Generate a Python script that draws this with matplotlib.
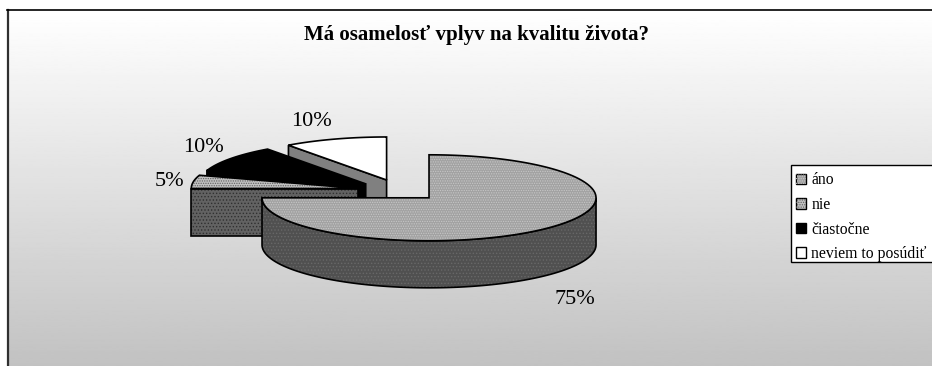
import numpy as np
import matplotlib
matplotlib.use('Agg')
import matplotlib.pyplot as plt
from matplotlib.patches import Polygon, Patch, Rectangle
from matplotlib.legend_handler import HandlerTuple

plt.rcParams['font.family'] = ['Liberation Serif', 'DejaVu Serif']
plt.rcParams['hatch.linewidth'] = 0.6

title = 'Má osamelosť vplyv na kvalitu života?'
categories = ['áno', 'nie', 'čiastočne', 'neviem to posúdiť']
values = [75, 5, 10, 10]
value_labels = ['75%', '5%', '10%', '10%']

# fake 3d pie geometry, everything in pixels
cx, cy = 399.5, 190.2
rx, ry = 167, 43
depth = 47
explode = 0.25

top_col = ['#a2a2a2', '#c0c0c0', 'black', 'white']
top_hatch = ['.......', '.......', None, None]
top_dots = ['#c6c6c6', '#606060', None, None]
wall_col = ['#505050', '#626262', 'black', '#808080']
wall_dots = ['#686868', '#303030', None, None]
label_xy = [(575, 299), (169, 181), (203, 147), (311, 122)]


def point(c, ang):
    # angle in degrees, clockwise from 12 o'clock
    a = np.radians(ang)
    return np.array([c[0] + rx*np.sin(a), c[1] - ry*np.cos(a)])


def arc(c, a0, a1):
    return np.array([point(c, a) for a in np.linspace(a0, a1, 200)])


def shape(ax, pts, col, dots, hatch, z):
    ax.add_patch(Polygon(pts, closed=True, facecolor=col, edgecolor='none', zorder=z))
    if hatch:
        ax.add_patch(Polygon(pts, closed=True, facecolor='none', edgecolor=dots, hatch=hatch, lw=0, zorder=z))
    ax.add_patch(Polygon(pts, closed=True, facecolor='none', edgecolor='black', lw=1.2, zorder=z))


fig = plt.figure(figsize=(9.32, 3.66), dpi=100)
ax = fig.add_axes([0, 0, 1, 1])
ax.set_xlim(0, 932)
ax.set_ylim(366, 0)
ax.axis('off')

# grey gradient behind the chart
grad = np.linspace(1.0, 0.76, 256).reshape(-1, 1)
ax.imshow(grad, cmap='gray', vmin=0, vmax=1, extent=[8, 932, 366, 10], aspect='auto', zorder=0)
ax.plot([8, 8], [366, 10], color='#303030', lw=1.6, zorder=1)
ax.plot([7, 932], [10, 10], color='black', lw=1.2, zorder=1)

# back slices first, the big one goes on top
starts = 360*np.cumsum([0] + values[:-1])/sum(values)
ends = 360*np.cumsum(values)/sum(values)
for i in [3, 2, 1, 0]:
    a0, a1 = starts[i], ends[i]
    mid = np.radians((a0 + a1)/2)
    c = (cx + explode*rx*np.sin(mid), cy - explode*ry*np.cos(mid))
    z = 10 + (3 - i)*3
    down = np.array([0, depth])
    hatch = '.....' if wall_dots[i] else None
    if i == 0:
        # front of the rim
        rim = arc(c, 90, a1)
        shape(ax, np.vstack([rim, (rim + down)[::-1]]), wall_col[i], wall_dots[i], hatch, z)
    else:
        # flat cut face turned towards the viewer
        p0 = point(c, a0)
        shape(ax, [p0, c, np.array(c) + down, p0 + down], wall_col[i], wall_dots[i], hatch, z)
    shape(ax, np.vstack([[c], arc(c, a0, a1)]), top_col[i], top_dots[i], top_hatch[i], z + 1)

for (x, y), txt in zip(label_xy, value_labels):
    ax.text(x, y, txt, fontsize=16, ha='center', va='center', zorder=30)

ax.text(477, 35, title, fontsize=15, fontweight='bold', ha='center', va='center', zorder=30)

# legend box runs off the right side, so it is drawn apart from the legend
ax.add_patch(Rectangle((791, 165), 145, 97, facecolor='white', edgecolor='black', lw=1, zorder=35))

# legend keys: flat colour with the dots laid over it
handles = []
for i in range(4):
    base = Patch(facecolor=top_col[i], edgecolor='black', lw=1)
    if top_hatch[i]:
        handles.append((base, Patch(facecolor='none', edgecolor=top_dots[i], hatch=top_hatch[i], lw=0)))
    else:
        handles.append((base,))
leg = ax.legend(handles, categories, loc='upper left', bbox_to_anchor=(790/932, 1 - 166/366), fontsize=11.3,
                frameon=False, borderaxespad=0,
                handlelength=0.65, handleheight=0.65, handletextpad=0.3, labelspacing=0.55, borderpad=0.4,
                handler_map={tuple: HandlerTuple(ndivide=1, pad=0)})
leg.set_zorder(40)

fig.savefig('out.png', dpi=100)
